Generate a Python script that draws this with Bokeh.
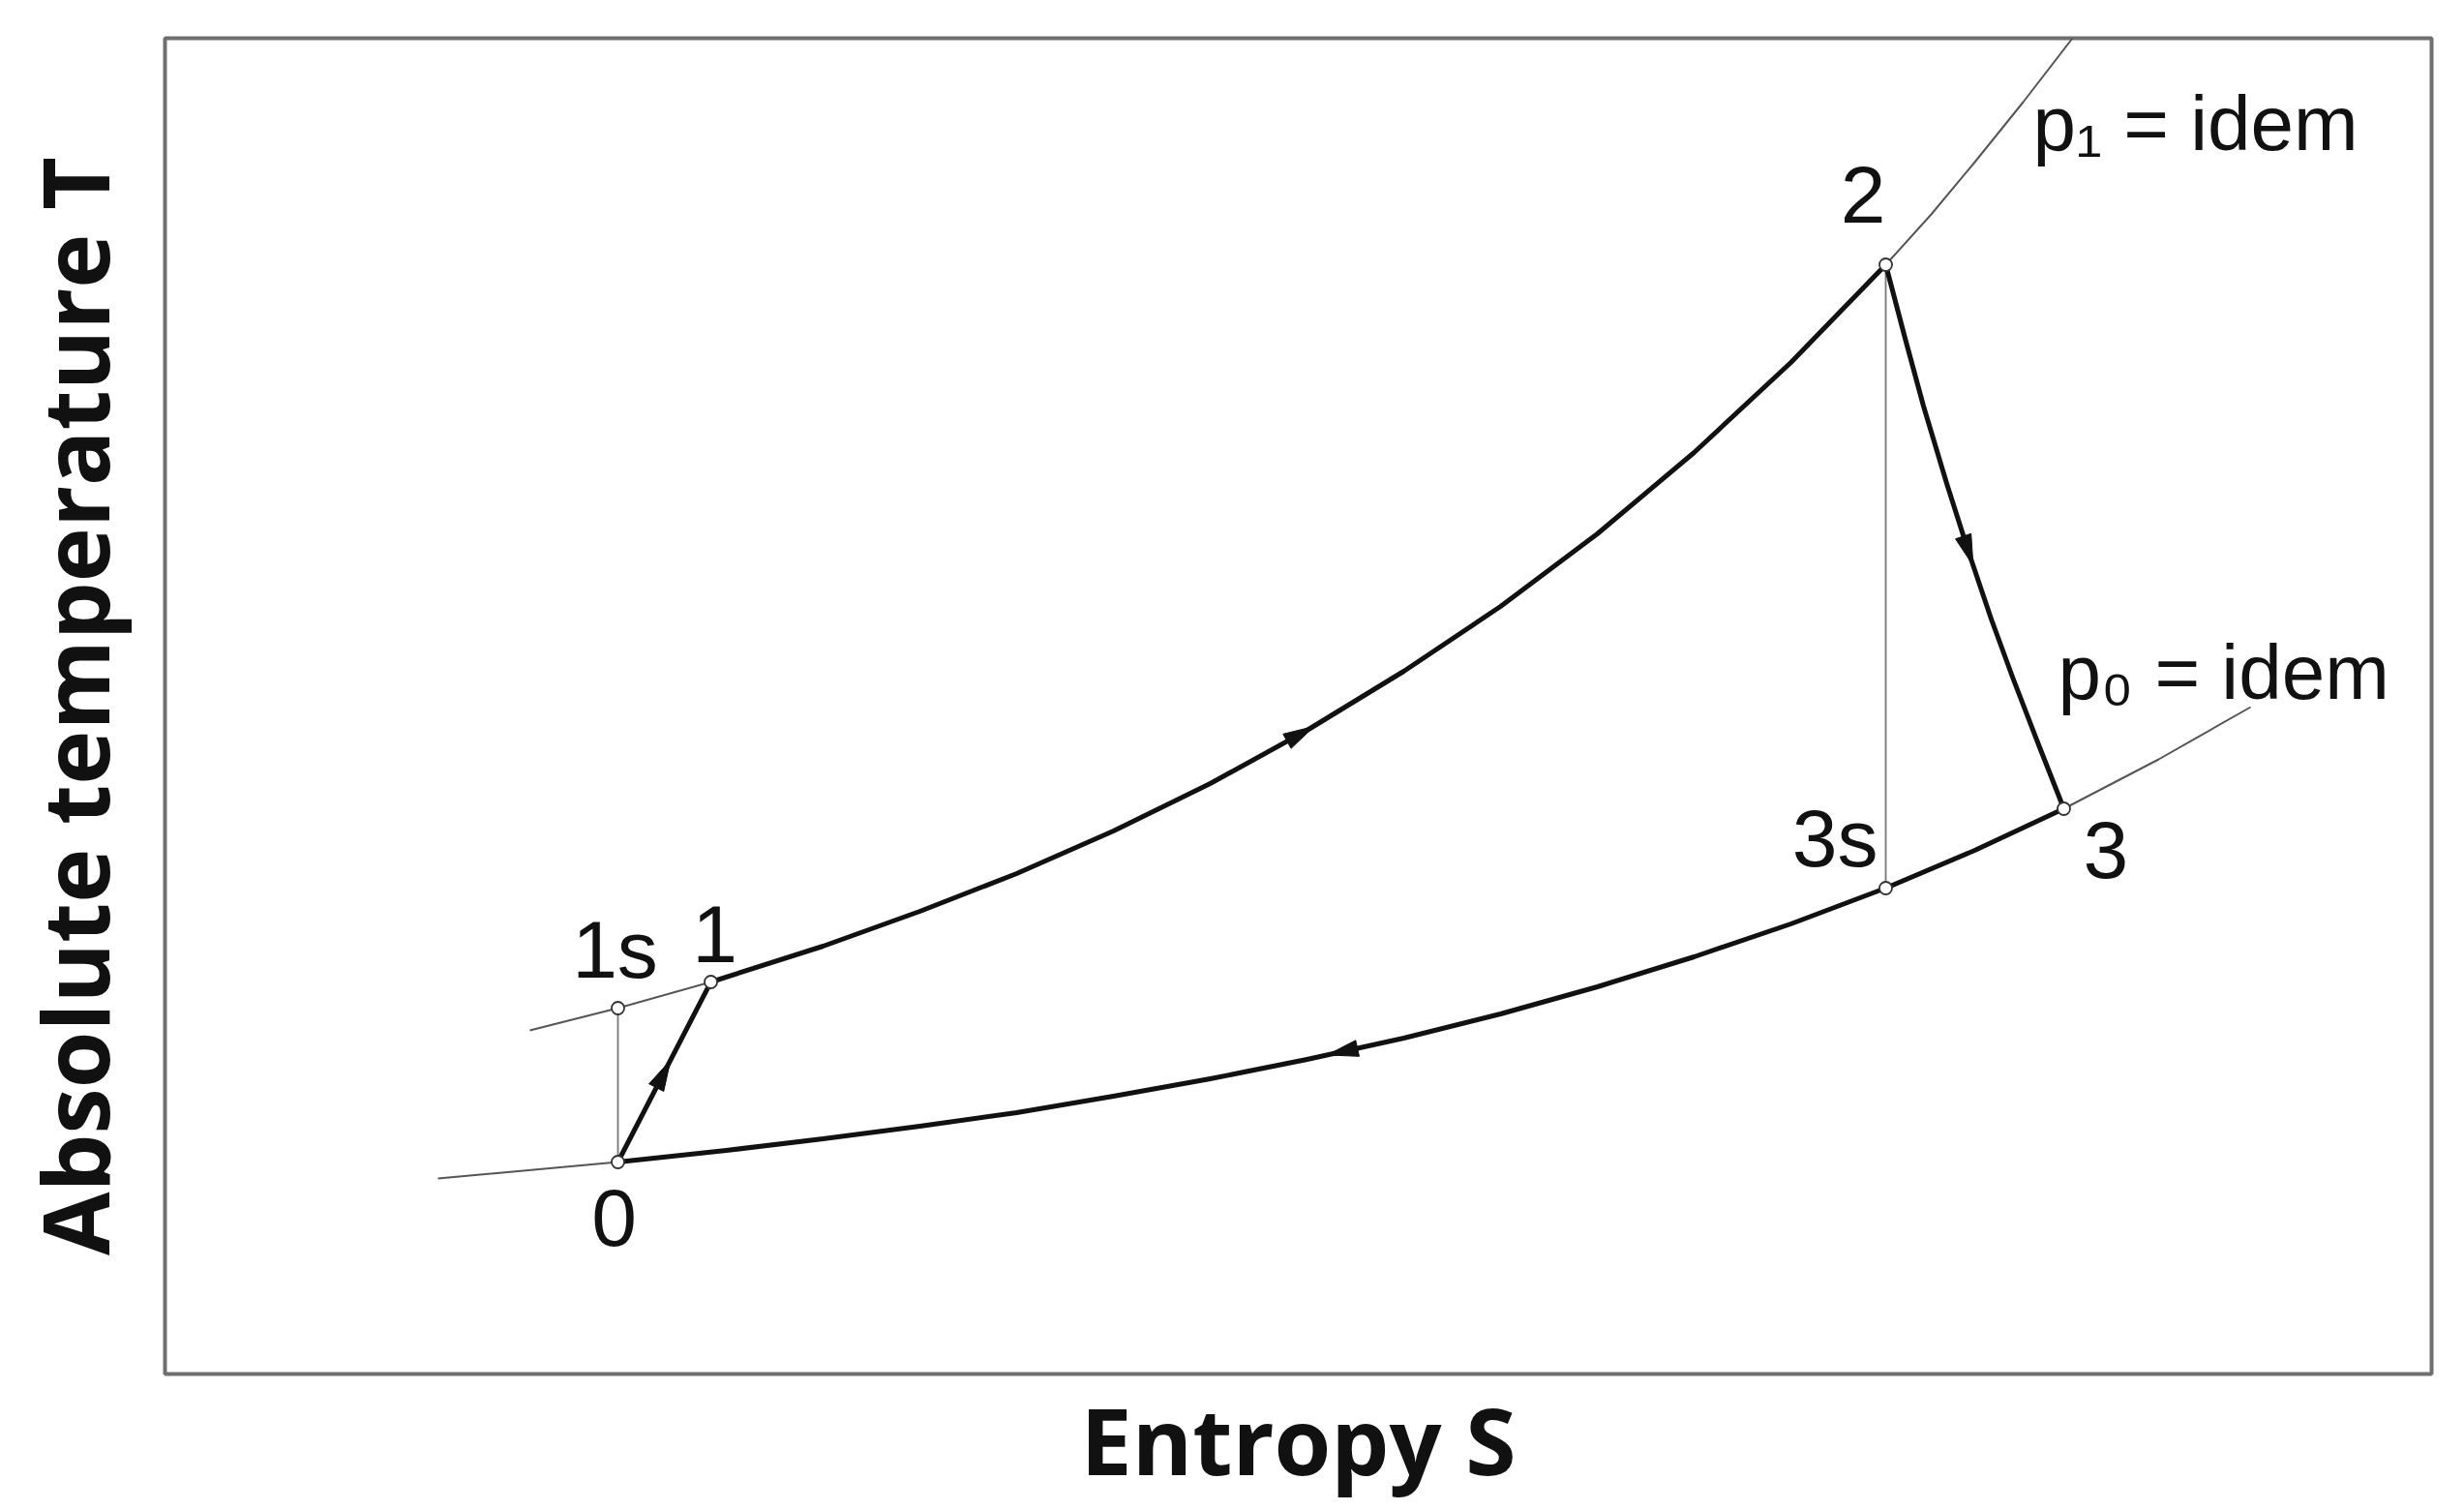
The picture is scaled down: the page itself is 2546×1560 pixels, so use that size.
import numpy as np
from bokeh.plotting import figure
from bokeh.models import Range1d, FixedTicker
from bokeh.core.properties import value
from bokeh.embed import file_html
from bokeh.resources import INLINE

# ---- data (entropy S, absolute temperature T, arbitrary drawing units) ----
# isobar p1 = idem (upper)
p1_S = [377, 468, 564, 680, 780, 880, 980, 1080, 1180, 1280, 1380, 1480, 1580, 1680, 1778, 1825, 1870, 1920, 1971]
p1_T = [355, 378, 405, 442, 478, 517, 561, 610, 665, 726, 793, 868, 952, 1045, 1146, 1198, 1252, 1314, 1380]
# isobar p0 = idem (lower)
p0_S = [282, 468, 580, 680, 780, 880, 980, 1080, 1180, 1280, 1380, 1480, 1580, 1680, 1778, 1870, 1962, 2060, 2155]
p0_T = [202, 219, 231, 243, 256, 270, 287, 305, 325, 347, 372, 400, 431, 465, 502, 541, 584, 635, 689]
# expansion 2 -> 3
exp_S = [1778, 1798, 1817, 1841, 1863, 1887, 1909, 1936, 1962]
exp_T = [1146, 1070, 1000, 920, 851, 780, 720, 650, 584]
# cycle states
state_names = ["0", "1s", "1", "2", "3s", "3"]
state_S = [468, 468, 564, 1778, 1778, 1962]
state_T = [219, 378, 405, 1146, 502, 584]
isobar_labels = ["p\u2081 = idem", "p\u2080 = idem"]
x_label = "Entropy S"
y_label = "Absolute temperature T"

st = {n: (s, t) for n, s, t in zip(state_names, state_S, state_T)}

# ---- style ----
FRAME_W, FRAME_H = 2342, 1380
THICK = 5.0
THIN = 2.0
INK = "#111111"
GREY = "#555555"
LABEL_FONT = value("Liberation Sans")
LABEL_SIZE = "84px"
ISOBAR_SIZE = "80px"

p = figure(frame_width=FRAME_W, frame_height=FRAME_H,
           x_range=Range1d(0, FRAME_W), y_range=Range1d(0, FRAME_H),
           output_backend="svg", toolbar_location=None,
           min_border_left=170, min_border_right=20, min_border_top=39, min_border_bottom=122,
           background_fill_color="white", border_fill_color="white")
p.grid.visible = False
p.outline_line_color = "#6f6f6f"
p.outline_line_width = 4

for ax in (p.xaxis[0], p.yaxis[0]):
    ax.ticker = FixedTicker(ticks=[])
    ax.major_tick_line_color = None
    ax.minor_tick_line_color = None
    ax.axis_line_color = None
    ax.major_tick_out = 0
    ax.major_tick_in = 0
    ax.major_label_standoff = 0
    ax.axis_label_text_font = "Open Sans"
    ax.axis_label_text_font_style = "bold"
    ax.axis_label_text_color = INK
p.xaxis.axis_label = x_label
p.yaxis.axis_label = y_label
p.xaxis.axis_label_text_font_size = "95px"
p.yaxis.axis_label_text_font_size = "95px"
p.xaxis.axis_label_standoff = 2
p.yaxis.axis_label_standoff = 30

# thin isobars
p.line(p1_S, p1_T, line_color=GREY, line_width=THIN)
p.line(p0_S, p0_T, line_color=GREY, line_width=THIN)

# thin isentropic reference verticals
p.line([st["1s"][0], st["0"][0]], [st["1s"][1], st["0"][1]], line_color="#777777", line_width=1.8)
p.line([st["2"][0], st["3s"][0]], [st["2"][1], st["3s"][1]], line_color="#777777", line_width=1.8)

# process paths
i1, i2 = p1_S.index(st["1"][0]), p1_S.index(st["2"][0])
i3, i0 = p0_S.index(st["3"][0]), p0_S.index(st["0"][0])
paths = [
    ([st["0"][0], st["1"][0]], [st["0"][1], st["1"][1]], 0.49),
    (p1_S[i1:i2 + 1], p1_T[i1:i2 + 1], 0.46),
    (exp_S, exp_T, 0.52),
    (p0_S[i0:i3 + 1][::-1], p0_T[i0:i3 + 1][::-1], 0.51),
]


def point_at(xs, ys, frac):
    xs = np.asarray(xs, float)
    ys = np.asarray(ys, float)
    seg = np.hypot(np.diff(xs), np.diff(ys))
    cum = np.concatenate([[0.0], np.cumsum(seg)])
    target = frac * cum[-1]
    i = int(np.clip(np.searchsorted(cum, target) - 1, 0, len(seg) - 1))
    t = (target - cum[i]) / seg[i]
    x = xs[i] + t * (xs[i + 1] - xs[i])
    y = ys[i] + t * (ys[i + 1] - ys[i])
    return x, y, (xs[i + 1] - xs[i]) / seg[i], (ys[i + 1] - ys[i]) / seg[i]


HEAD_L, HEAD_W = 32, 17
hx, hy = [], []
for xs, ys, frac in paths:
    p.line(xs, ys, line_color=INK, line_width=THICK, line_join="round", line_cap="round")
    x, y, dx, dy = point_at(xs, ys, frac)
    nx, ny = -dy, dx
    tip = (x + dx * HEAD_L / 2, y + dy * HEAD_L / 2)
    base = (x - dx * HEAD_L / 2, y - dy * HEAD_L / 2)
    hx.append([tip[0], base[0] + nx * HEAD_W / 2, base[0] - nx * HEAD_W / 2])
    hy.append([tip[1], base[1] + ny * HEAD_W / 2, base[1] - ny * HEAD_W / 2])
p.patches(hx, hy, fill_color=INK, line_color=INK, line_width=1)

# state markers
p.scatter(state_S, state_T, size=13, marker="circle", fill_color="white",
          line_color="#333333", line_width=1.8)

# state labels (offsets in drawing units = pixels)
offsets = {"0": (-4, -57, "center"), "1s": (-3, 61, "center"), "1": (4, 50, "center"),
           "2": (0, 73, "right"), "3s": (-8, 52, "right"), "3": (20, -42, "left")}
for name in state_names:
    dx, dy, align = offsets[name]
    s, t = st[name]
    p.text([s + dx], [t + dy], text=[name], text_font=LABEL_FONT, text_font_size=LABEL_SIZE,
           text_color=INK, text_align=align, text_baseline="alphabetic")

# isobar labels
p.text([st["2"][0] + 152], [st["2"][1] + 146], text=[isobar_labels[0]], text_font=LABEL_FONT,
       text_font_size=ISOBAR_SIZE, text_color=INK, text_align="left", text_baseline="alphabetic")
p.text([st["3"][0] - 6], [st["3"][1] + 141], text=[isobar_labels[1]], text_font=LABEL_FONT,
       text_font_size=ISOBAR_SIZE, text_color=INK, text_align="left", text_baseline="alphabetic")

open("out.html", "w").write(file_html(p, INLINE))
